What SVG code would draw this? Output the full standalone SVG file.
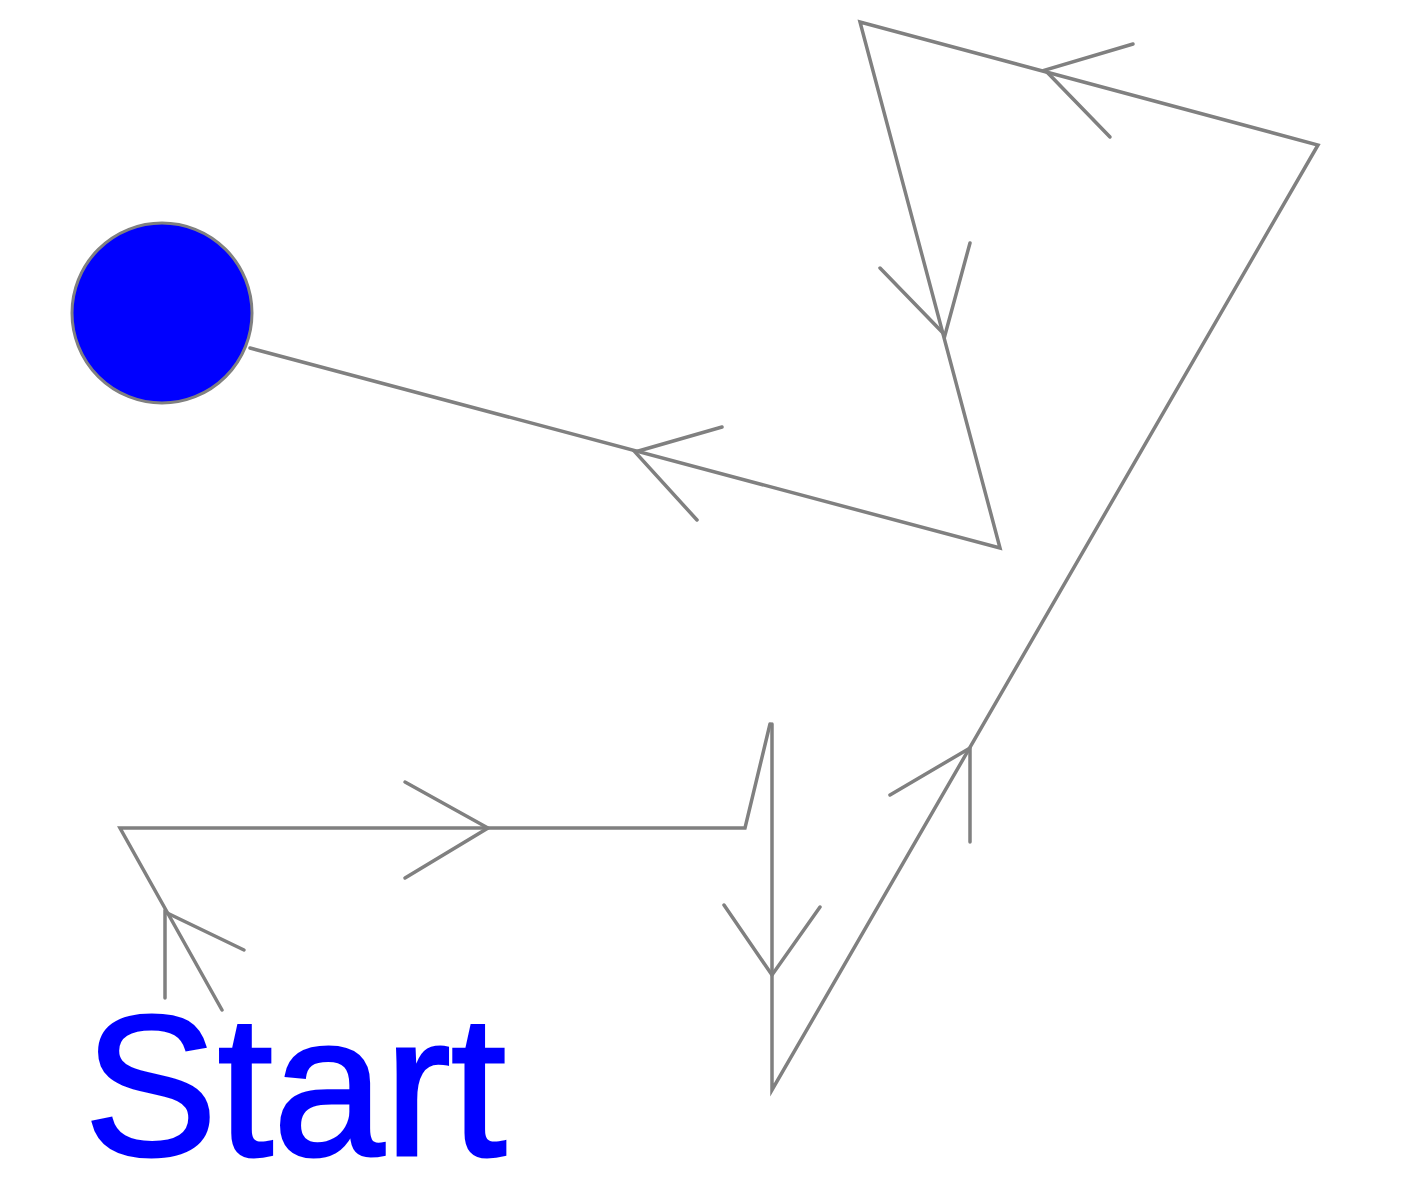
<svg xmlns="http://www.w3.org/2000/svg" width="1411" height="1200" viewBox="0 0 1411 1200">
<style>
.ln{fill:none;stroke:#808080;stroke-width:3.5;stroke-linejoin:miter;stroke-linecap:round}
.ah{fill:none;stroke:#808080;stroke-width:3.5;stroke-linecap:round}
</style>
<rect width="1411" height="1200" fill="#fff"/>
<g id="connectors">
<polyline class="ln" points="222,1010 120,828 745,828 770,724"/>
<polyline class="ln" points="772,724 772,1090 1318,145 860,22 1000,548 250,348"/>
<polyline class="ah" points="165,998 165,912 244,950"/>
<polyline class="ah" points="405,782 488,828 405,878"/>
<polyline class="ah" points="724,905 772,975 820,907"/>
<polyline class="ah" points="890,795 970,748 970,842"/>
<polyline class="ah" points="1133,44 1045,70 1110,137"/>
<polyline class="ah" points="880,268 945,335 970,243"/>
<polyline class="ah" points="722,427 635,452 697,520"/>
</g>
<g id="end">
<circle cx="162" cy="313" r="90" fill="#0000ff" stroke="#808080" stroke-width="3"/>
</g>
<g id="start">
<text x="84" y="1155" font-family="Liberation Sans, Arial, sans-serif" font-size="200" fill="#0000ff" stroke="#0000ff" stroke-width="3">Start</text>
</g>
</svg>
